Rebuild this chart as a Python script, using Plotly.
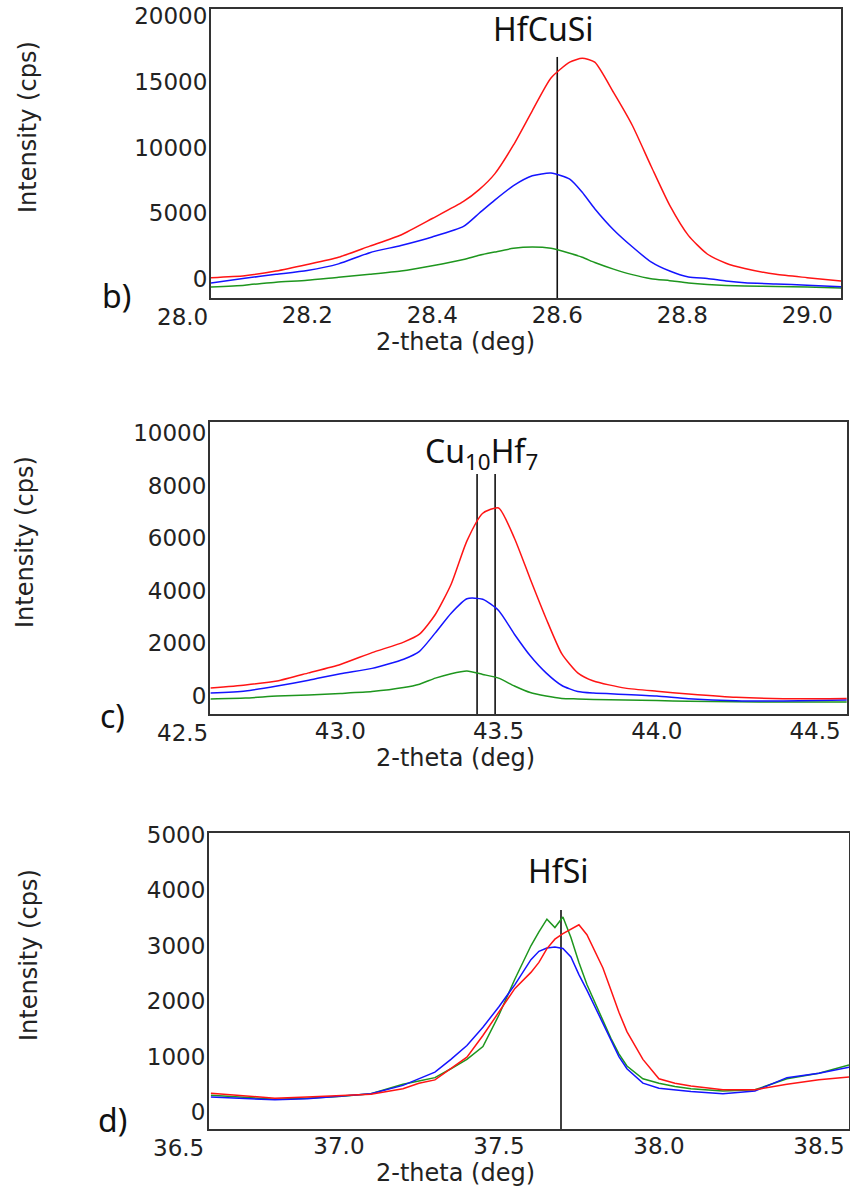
import plotly.graph_objects as go

W, H = 850, 1191

# ---- b) HfCuSi ----
b_theta = [28.046, 28.10, 28.15, 28.20, 28.25, 28.30, 28.35, 28.40, 28.45, 28.475, 28.50, 28.53,
           28.56, 28.59, 28.62, 28.64, 28.66, 28.69, 28.72, 28.75, 28.78, 28.81, 28.84, 28.87,
           28.90, 28.95, 29.00, 29.054]
b_red = [100, 250, 600, 1100, 1650, 2500, 3350, 4600, 5900, 6800, 8000, 10200,
         12800, 15300, 16500, 16800, 16500, 14200, 11700, 8600, 5600, 3300, 1900, 1200,
         800, 350, 100, -150]
b_blue = [-300, 50, 350, 650, 1150, 2000, 2550, 3200, 4000, 5000, 6000, 7100,
          7850, 8060, 7600, 6600, 5350, 3750, 2450, 1300, 600, 150, 30, -150,
          -280, -380, -480, -600]
b_green = [-610, -470, -250, -100, 130, 350, 600, 1000, 1480, 1800, 2050, 2330,
           2430, 2330, 1950, 1650, 1250, 750, 330, 20, -130, -300, -420, -500,
           -540, -570, -620, -680]
b_refs = [28.6]
b_ref_top = 16900
b_xrange = [28.046, 29.054]
b_yrange = [-1450, 20550]
b_xticks = [28.0, 28.2, 28.4, 28.6, 28.8, 29.0]
b_yticks = [0, 5000, 10000, 15000, 20000]

# ---- c) Cu10Hf7 ----
c_theta = [42.59, 42.70, 42.80, 42.90, 43.00, 43.10, 43.20, 43.25, 43.30, 43.35, 43.40, 43.45,
           43.50, 43.55, 43.60, 43.65, 43.70, 43.75, 43.80, 43.90, 44.00, 44.10, 44.25, 44.40,
           44.60]
c_red = [300, 420, 570, 880, 1200, 1650, 2050, 2350, 3100, 4250, 5900, 6950,
         7150, 6000, 4450, 2950, 1600, 880, 570, 300, 180, 80, -50, -100,
         -90]
c_blue = [110, 190, 380, 600, 850, 1050, 1400, 1700, 2400, 3150, 3700, 3680,
          3250, 2350, 1530, 880, 400, 170, 110, 60, 0, -100, -180, -190,
          -150]
c_green = [-110, -80, 0, 40, 100, 170, 320, 450, 680, 850, 950, 820,
           680, 380, 130, 0, -90, -110, -130, -150, -170, -200, -220, -230,
           -230]
c_refs = [43.432, 43.489]
c_ref_top = 8440
c_xrange = [42.588, 44.601]
c_yrange = [-684, 10418]
c_xticks = [42.5, 43.0, 43.5, 44.0, 44.5]
c_yticks = [0, 2000, 4000, 6000, 8000, 10000]

# ---- d) HfSi ----
d_theta = [36.60, 36.70, 36.80, 36.90, 37.00, 37.10, 37.20, 37.25, 37.30, 37.35, 37.40, 37.45,
           37.50, 37.55, 37.60, 37.625, 37.65, 37.675, 37.70, 37.725, 37.75, 37.775, 37.80,
           37.825, 37.85, 37.875, 37.90, 37.95, 38.00, 38.05, 38.10, 38.20, 38.30, 38.40,
           38.50, 38.594]
d_red = [340, 300, 250, 270, 290, 320, 420, 520, 580, 780, 990, 1380,
         1800, 2230, 2520, 2700, 2950, 3120, 3220, 3300, 3380, 3200, 2900,
         2600, 2200, 1800, 1450, 950, 600, 520, 470, 400, 400, 500,
         580, 630]
d_blue = [270, 250, 220, 240, 280, 330, 480, 600, 720, 950, 1200, 1530,
          1900, 2300, 2750, 2900, 2960, 2980, 2950, 2800, 2480, 2200, 1900,
          1600, 1300, 1000, 780, 520, 430, 400, 370, 330, 380, 620,
          700, 810]
d_green = [300, 270, 230, 250, 280, 330, 500, 560, 620, 780, 950, 1180,
           1750, 2400, 3000, 3250, 3480, 3330, 3520, 3150, 2700, 2300, 1980,
           1650, 1330, 1050, 830, 600, 520, 460, 420, 380, 400, 600,
           700, 850]
d_refs = [37.694]
d_ref_top = 3646
d_xrange = [36.594, 38.594]
d_yrange = [-307, 5036]
d_xticks = [36.5, 37.0, 37.5, 38.0, 38.5]
d_yticks = [0, 1000, 2000, 3000, 4000, 5000]

RED, BLUE, GREEN = "rgb(255,20,20)", "rgb(20,20,255)", "rgb(30,150,30)"
TICK_FONT = dict(family="DejaVu Sans", size=23, color="#222")
LABEL_FONT = dict(family="Noto Sans", size=32, color="#111")
TITLE_FONT = dict(family="DejaVu Sans", size=24, color="#222")


def px(x):
    return x / W


def py(y):
    return 1 - y / H


panels = [
    dict(theta=b_theta, red=b_red, blue=b_blue, green=b_green, refs=b_refs, ref_top=b_ref_top,
         xr=b_xrange, yr=b_yrange, xt=b_xticks, yt=b_yticks, shape="spline",
         dom_x=[211, 841], dom_y=[9, 298], letter="b)", letter_xy=(116, 296),
         phase="HfCuSi", phase_xy=(543, 29), xtitle_y=342, ytitle_xy=(28, 127)),
    dict(theta=c_theta, red=c_red, blue=c_blue, green=c_green, refs=c_refs, ref_top=c_ref_top,
         xr=c_xrange, yr=c_yrange, xt=c_xticks, yt=c_yticks, shape="spline",
         dom_x=[210, 847], dom_y=[422, 714], letter="c)", letter_xy=(112, 715),
         phase="Cu<sub>10</sub>Hf<sub>7</sub>", phase_xy=(481, 453), xtitle_y=758,
         ytitle_xy=(25, 542)),
    dict(theta=d_theta, red=d_red, blue=d_blue, green=d_green, refs=d_refs, ref_top=d_ref_top,
         xr=d_xrange, yr=d_yrange, xt=d_xticks, yt=d_yticks, shape="linear",
         dom_x=[209, 849], dom_y=[833, 1129], letter="d)", letter_xy=(112, 1119),
         phase="HfSi", phase_xy=(558, 870), xtitle_y=1173, ytitle_xy=(29, 955)),
]

fig = go.Figure()
annotations = []

for i, p in enumerate(panels, start=1):
    sfx = "" if i == 1 else str(i)
    xa, ya = "x" + sfx, "y" + sfx
    lo, hi = p["xr"]

    for xv in p["refs"]:
        fig.add_trace(go.Scatter(x=[xv, xv], y=[p["ref_top"], p["yr"][0]], mode="lines",
                                 line=dict(color="#111", width=1.6), xaxis=xa, yaxis=ya,
                                 showlegend=False, hoverinfo="skip"))
    for ys, col in [(p["green"], GREEN), (p["blue"], BLUE), (p["red"], RED)]:
        fig.add_trace(go.Scatter(x=p["theta"], y=ys, mode="lines",
                                 line=dict(color=col, width=1.5, shape=p["shape"], smoothing=0.6),
                                 xaxis=xa, yaxis=ya, showlegend=False))

    inside = [v for v in p["xt"] if lo <= v <= hi]
    axis_common = dict(showgrid=False, zeroline=False, showline=True, mirror=True,
                       linecolor="#333", linewidth=2, ticks="", tickfont=TICK_FONT)
    fig.layout["xaxis" + sfx] = dict(axis_common, domain=[px(p["dom_x"][0]), px(p["dom_x"][1])],
                                     range=p["xr"], anchor=ya, tickvals=inside,
                                     ticktext=[f"{v:.1f}" for v in inside],
                                     ticklabelstandoff=-5)
    fig.layout["yaxis" + sfx] = dict(axis_common, domain=[py(p["dom_y"][1]), py(p["dom_y"][0])],
                                     range=p["yr"], anchor=xa, tickvals=p["yt"],
                                     ticktext=[str(v) for v in p["yt"]],
                                     ticklabelstandoff=-3)

    # ticks left of the frame still get their label, as in the source figure
    for v in p["xt"]:
        if v < lo:
            annotations.append(dict(text=f"{v:.1f}", xref=xa + " domain", yref=ya + " domain",
                                    x=(v - lo) / (hi - lo), y=0,
                                    xanchor="center", yanchor="top", yshift=-4,
                                    showarrow=False, font=TICK_FONT))

    annotations += [
        dict(text=p["letter"], x=px(p["letter_xy"][0]), y=py(p["letter_xy"][1]),
             xref="paper", yref="paper", showarrow=False, font=LABEL_FONT,
             xanchor="center", yanchor="middle"),
        dict(text=p["phase"], x=px(p["phase_xy"][0]), y=py(p["phase_xy"][1]),
             xref="paper", yref="paper", showarrow=False, font=LABEL_FONT,
             xanchor="center", yanchor="middle"),
        dict(text="2-theta (deg)", x=px(455), y=py(p["xtitle_y"]), xref="paper", yref="paper",
             showarrow=False, font=TITLE_FONT, xanchor="center", yanchor="middle"),
        dict(text="Intensity (cps)", x=px(p["ytitle_xy"][0]), y=py(p["ytitle_xy"][1]),
             xref="paper", yref="paper", showarrow=False, textangle=-90, font=TITLE_FONT,
             xanchor="center", yanchor="middle"),
    ]

fig.update_layout(width=W, height=H,
                  margin=dict(l=0, r=0, t=0, b=0, autoexpand=False),
                  paper_bgcolor="white", plot_bgcolor="white",
                  annotations=annotations, showlegend=False)

# drop the browser's default 8px body margin so the figure sits at the page origin
fig.write_html("out.html", config={"displayModeBar": False},
               post_script="document.body.style.margin = '0';")
